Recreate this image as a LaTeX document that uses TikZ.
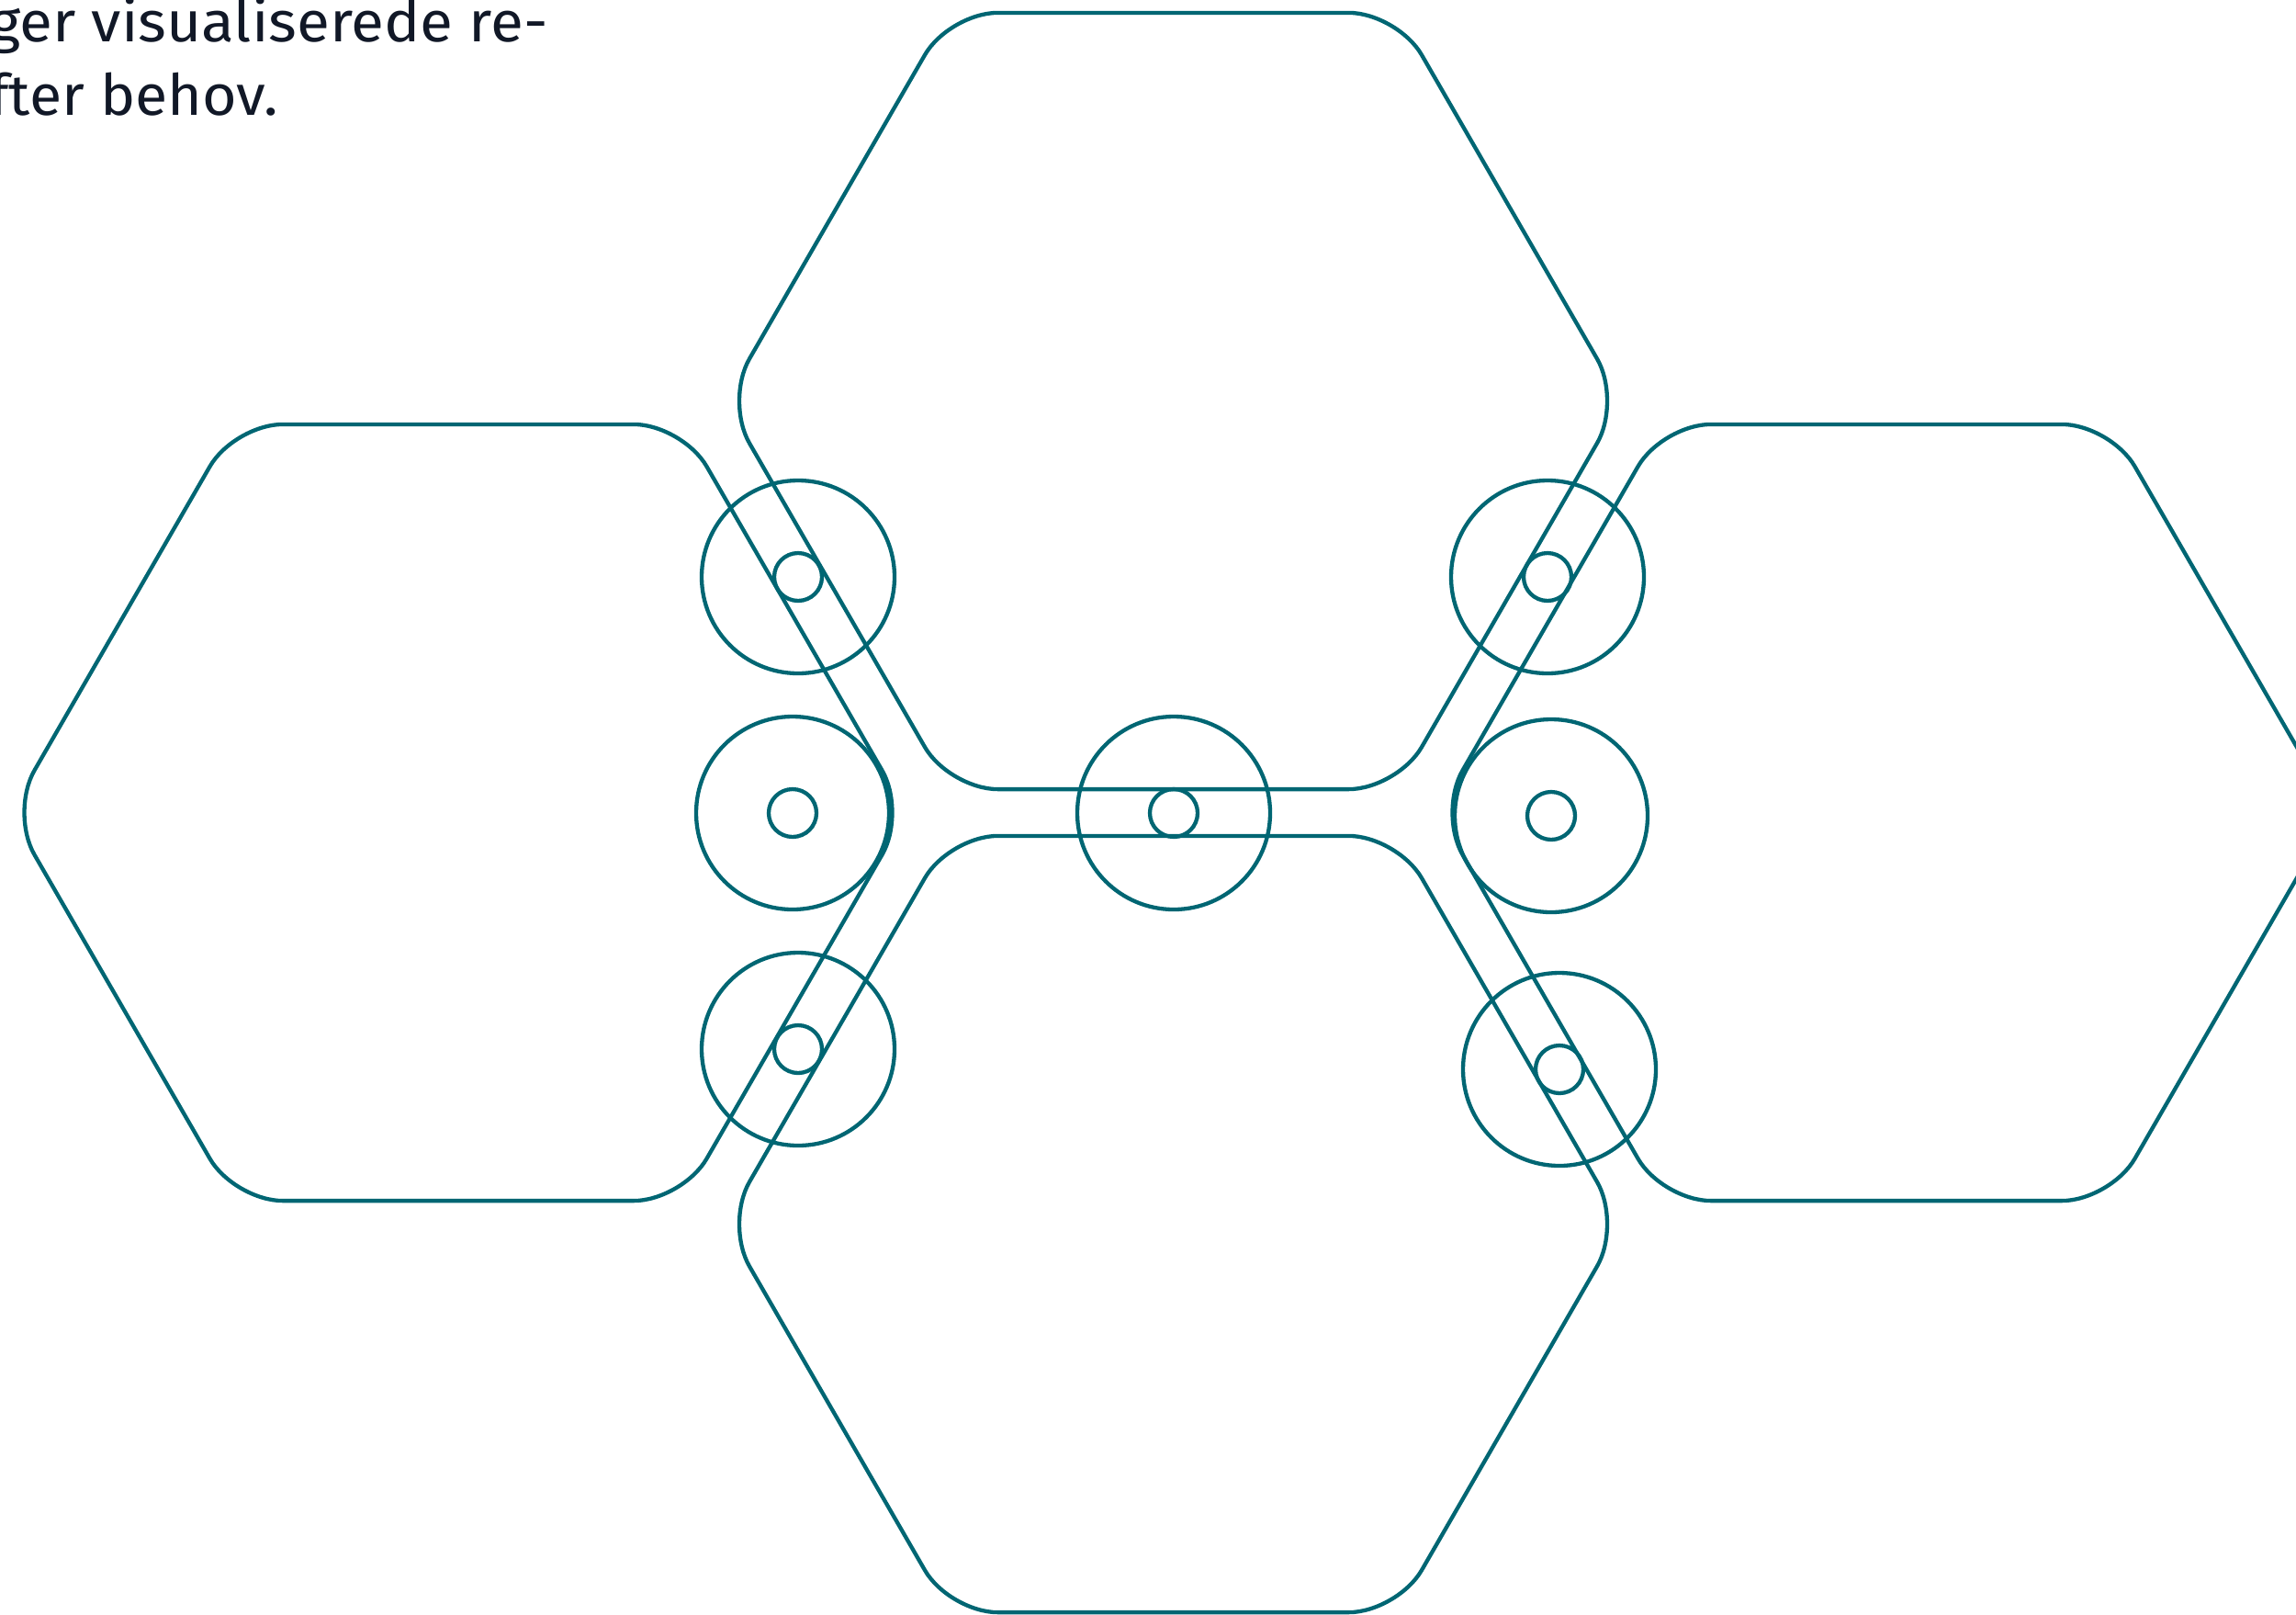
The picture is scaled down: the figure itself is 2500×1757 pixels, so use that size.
\documentclass[tikz,border=0pt]{standalone}
\usepackage{graphicx}
\usepackage{fontspec}
\setmainfont{Fira Sans}
\definecolor{teal}{RGB}{0,102,115}
\definecolor{ink}{RGB}{17,24,39}
\tikzset{
  hexbox/.style={draw=teal, line width=4.3pt, rounded corners=53pt},
  ring/.style={circle, draw=teal, line width=4.3pt, minimum size=210pt, inner sep=0pt},
  hub/.style={circle, draw=teal, line width=4.3pt, minimum size=52pt, inner sep=0pt},
  txt/.style={text=ink, inner sep=0pt, anchor=base west, font=\fontsize{62}{79}\selectfont}
}
\newcommand{\hexat}[2]{%
  \draw[hexbox, shift={(#1,#2)}] (488,0) -- (244,422.6) -- (-244,422.6) -- (-488,0) -- (-244,-422.6) -- (244,-422.6) -- cycle;}
\begin{document}
\begin{tikzpicture}[x=1pt, y=-1pt]
\useasboundingbox (0,0) rectangle (2500,1757);
\clip (0,0) rectangle (2500,1757);
\fill[white] (0,0) rectangle (2500,1757);
% hexagons
\hexat{1277.5}{436.5}
\hexat{1277.5}{1332.5}
\hexat{499}{884.5}
\hexat{2054}{884.5}
% rings with hubs
\foreach \n/\x/\y in {a/869/628, b/863/885, c/869/1142, d/1278/885, e/1685/628, f/1689/888, g/1698/1164} {
  \node[ring] (r\n) at (\x,\y) {};
  \node[hub] (h\n) at (\x,\y) {};
}
% text
\node[txt] (t1) at (-12,45) {\scalebox{1.06}[1]{ger visualiserede re-}};
\node[txt] (t2) at (-12,125) {\scalebox{1.04}[1]{fter behov.}};
\end{tikzpicture}
\end{document}
